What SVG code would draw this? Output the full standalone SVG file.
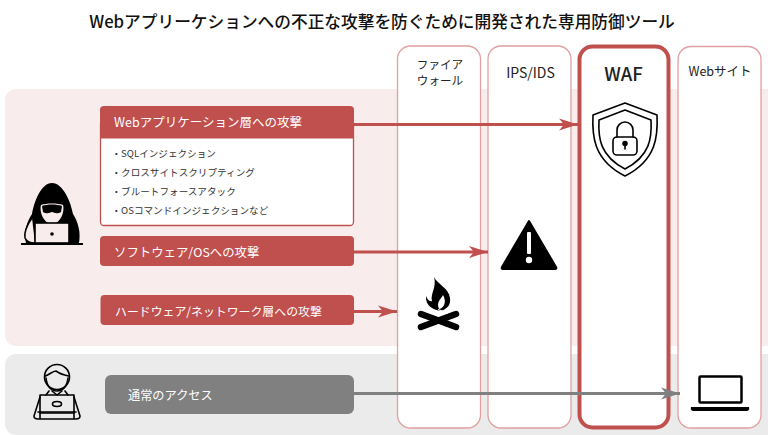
<svg xmlns="http://www.w3.org/2000/svg" width="768" height="435" viewBox="0 0 768 435">
<style>
text{font-family:"Noto Sans CJK JP","Noto Sans",sans-serif}
.col{fill:#fff;stroke:#e0a0a0;stroke-width:1.3}
.red{fill:#bf504e}
.hd{fill:#fff;font-size:12.500px}
.li{fill:#333;font-size:9.600px}
.ch{fill:#222;font-size:11.600px;text-anchor:middle}
.ln{stroke-width:3;fill:none}
.ic{fill:none;stroke:#000;stroke-width:1.6;stroke-linejoin:round;stroke-linecap:round}
</style>
<defs>
<marker id="ar" markerUnits="userSpaceOnUse" markerWidth="20" markerHeight="14" refX="19" refY="7" orient="auto"><path d="M0 1L19 7L0 13L5 7Z" fill="#bf504e"/></marker>
<marker id="ag" markerUnits="userSpaceOnUse" markerWidth="20" markerHeight="14" refX="19" refY="7" orient="auto"><path d="M0 1L19 7L0 13L5 7Z" fill="#808080"/></marker>
</defs>
<rect width="768" height="435" fill="#fff"/>
<text id="title" x="382" y="28" font-size="16.700" font-weight="500" fill="#111" text-anchor="middle">Webアプリーケションへの不正な攻撃を防ぐために開発された専用防御ツール</text>
<rect id="panel-attack" x="5" y="89" width="775" height="257" rx="11" fill="#f9ecec"/>
<rect id="panel-normal" x="5" y="354" width="775" height="81" rx="11" fill="#ebebeb"/>
<g id="col-fw"><rect class="col" x="397.500" y="46" width="83" height="382" rx="13"/><text class="ch" x="440" y="69">ファイア</text><text class="ch" x="440" y="85">ウォール</text></g>
<g id="col-ips"><rect class="col" x="488" y="46" width="83" height="382" rx="13"/><text class="ch" x="530.500" y="78" style="font-size:14px">IPS/IDS</text></g>
<g id="col-web"><rect class="col" x="678" y="46.500" width="83" height="381.500" rx="13"/><text class="ch" x="720" y="76" style="font-size:12.500px">Webサイト</text></g>
<g id="col-waf"><rect x="579.500" y="46.500" width="89" height="381" rx="13" fill="#fff" stroke="#bf504e" stroke-width="4"/><text x="623.500" y="80.500" font-size="18.500" font-weight="500" fill="#222" text-anchor="middle">WAF</text></g>
<g id="connectors">
<path class="ln" stroke="#bf504e" marker-end="url(#ar)" d="M354 124.500H578"/>
<path class="ln" stroke="#bf504e" marker-end="url(#ar)" d="M354 252H488"/>
<path class="ln" stroke="#bf504e" marker-end="url(#ar)" d="M354 311.500H397"/>
<path class="ln" stroke="#808080" marker-end="url(#ag)" d="M354 393.500H680"/>
</g>
<g id="box-web">
<rect x="100.500" y="120" width="253" height="105.500" rx="3.500" fill="#fff" stroke="#bf504e" stroke-width="1.300"/>
<path class="red" d="M100 110a4 4 0 0 1 4-4H350a4 4 0 0 1 4 4V138.500H100Z"/>
<text class="hd" x="114" y="127">Webアプリケーション層への攻撃</text>
<text class="li" x="111.500" y="157">・SQLインジェクション</text>
<text class="li" x="111.500" y="176">・クロスサイトスクリプティング</text>
<text class="li" x="111.500" y="195">・ブルートフォースアタック</text>
<text class="li" x="111.500" y="214">・OSコマンドインジェクションなど</text>
</g>
<g id="box-os"><rect class="red" x="100" y="236" width="254" height="30" rx="4"/><text class="hd" x="114" y="257" style="font-size:12.400px">ソフトウェア/OSへの攻撃</text></g>
<g id="box-hw"><rect class="red" x="100.500" y="295" width="253.500" height="30" rx="4"/><text class="hd" x="115" y="316" style="font-size:11.900px">ハードウェア/ネットワーク層への攻撃</text></g>
<g id="box-normal"><rect x="105" y="375" width="249" height="39" rx="6" fill="#808080"/><text x="128" y="400" font-size="12.200" fill="#fff">通常のアクセス</text></g>
<g id="icon-hacker">
<path d="M32 214C34 202 41 183 52 183C63 183 71 202 73 214C78 222 81 232 79 243H26C23 232 27 222 32 214Z" fill="#000"/>
<path d="M41 205C46 203 58 203 63 205C65 212 60 224 52 224C44 224 39 212 41 205Z" fill="#f9ecec"/>
<path d="M42 206C47 204 57 204 62 206L61 212C56 215 54 212 52 212C50 212 48 215 43 212Z" fill="#000"/>
<path d="M32 218C26 226 24 234 25 238C27 242 31 243 35 243" fill="#f9ecec" stroke="#000" stroke-width="1.600"/>
<rect x="35" y="223" width="34" height="20" fill="#f9ecec" stroke="#000" stroke-width="1.600"/>
<circle cx="52" cy="234" r="1.800" fill="#000"/>
<path d="M21 244H83" stroke="#000" stroke-width="2" fill="none"/>
</g>
<g id="icon-user" class="ic">
<circle cx="57" cy="377" r="12.500"/>
<path d="M45.500 376C50 374 53 371 56 371C60 374 64 375 68.500 376"/>
<path d="M46 378C47 386 51 391 57 391C63 391 67 386 68 378"/>
<path d="M49 391L46 395M65 391L68 395M52 391L57 395L62 391"/>
<path d="M40 395H74V413H40Z"/>
<path d="M38 412H76"/>
<ellipse cx="57" cy="404" rx="4.500" ry="2.500"/>
<path d="M40 397L34 416Q34 419 38 419H76Q80 419 80 416L74 397M40 419V413M74 419V413"/>
</g>
<g id="icon-shield" class="ic">
<path d="M625 103L657 115C658 135 657 160 625 176C593 160 592 135 593 115Z"/>
<path d="M625 110L651 120C652 138 650 156 625 169C600 156 598 138 599 120Z"/>
<rect x="613" y="137" width="24" height="18" rx="4"/>
<path d="M617 137V130A8 8 0 0 1 633 130V137"/>
<circle cx="625" cy="143.500" r="2" fill="#000"/>
<path d="M625 144V149"/>
</g>
<g id="icon-warning">
<path d="M529 221L556 267Q557 269 555 269H503Q501 269 502 267Z" fill="#000" stroke="#000" stroke-width="2" stroke-linejoin="round"/>
<rect x="527" y="232" width="4" height="22" rx="1" fill="#fff"/>
<circle cx="529" cy="260" r="3.200" fill="#fff"/>
</g>
<g id="icon-fire">
<path d="M434 277C437 284 449 288 450 298C451 305 447 309 441 311C434 310 425 306 426 296C428 301 431 302 432 301C430 294 437 287 434 277Z" fill="#000"/>
<path d="M443 295C441 299 436 302 439 309C444 308 447 302 443 295Z" fill="#fff"/>
<path d="M421 314L456 327M456 314L421 327" stroke="#000" stroke-width="6.500" stroke-linecap="round" fill="none"/>
<path d="M438 309.500L448 313" stroke="#fff" stroke-width="1.200" fill="none"/>
</g>
<g id="icon-laptop">
<rect x="699.500" y="376.500" width="42" height="26" rx="1" fill="none" stroke="#000" stroke-width="2.500"/>
<path d="M691 407H749Q750 410 747 411H693Q690 410 691 407Z" fill="#000"/>
</g>
</svg>
